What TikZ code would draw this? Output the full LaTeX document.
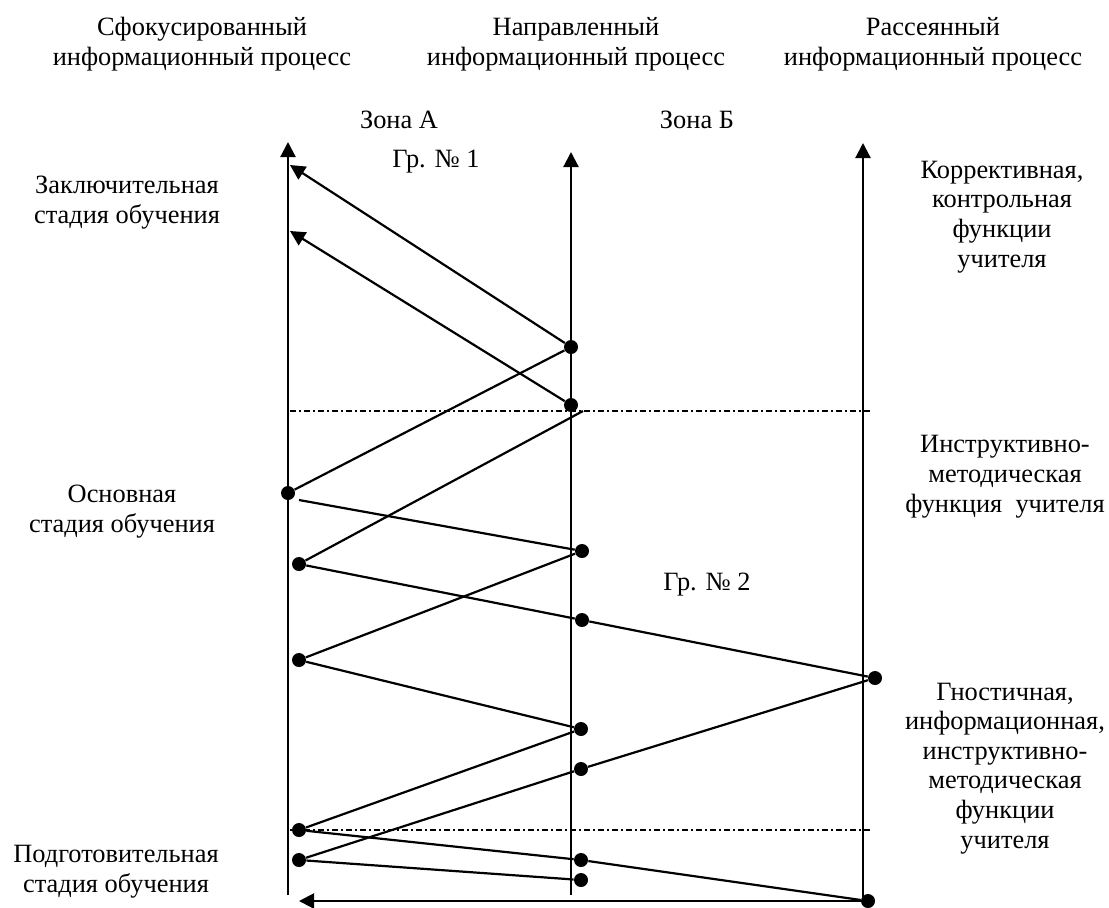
\documentclass[tikz,border=0pt]{standalone}
\usepackage{fontspec}
\setmainfont{Liberation Serif}
\usetikzlibrary{arrows.meta}

\begin{document}
\begin{tikzpicture}[x=0.5pt,y=-0.5pt,
    dot/.style={circle,fill,inner sep=0pt,minimum size=7pt},
    ln/.style={line width=1.1pt},
    sepline/.style={line width=0.6pt,dash pattern=on 3pt off 1.5pt on 1pt off 1.5pt},
    txt/.style={align=center,anchor=base,inner sep=0pt,font=\fontsize{13.2}{14.8}\selectfont},
    >={Triangle[length=7.5pt,width=7.5pt]}]
        \useasboundingbox (0,0) rectangle (1109,907);
        % заголовки (по базовой линии последней строки)
        \node[txt] (hA) at (202,65) {Сфокусированный\\информационный процесс};
        \node[txt] (hB) at (576,65) {Направленный\\информационный процесс};
        \node[txt] (hC) at (933,65) {Рассеянный\\информационный процесс};
        \node[txt] (zA) at (399,128) {Зона А};
        \node[txt] (zB) at (697,128) {Зона Б};
        \node[txt] (g1) at (436,167) {Гр. № 1};
        \node[txt] (g2) at (707,590) {Гр. № 2};
        % стадии обучения
        \node[txt] (st1) at (127,223) {Заключительная\\стадия обучения};
        \node[txt] (st2) at (122,532) {Основная\\стадия обучения};
        \node[txt] (st3) at (116,892) {Подготовительная\\стадия обучения};
        % функции учителя
        \node[txt] (f1) at (1002,267) {Коррективная,\\контрольная\\функции\\учителя};
        \node[txt] (f2) at (1005,512) {Инструктивно-\\методическая\\функция~~учителя};
        \node[txt] (f3) at (1005,848) {Гностичная,\\информационная,\\инструктивно-\\методическая\\функции\\учителя};

        % оси процессов
        \coordinate (a0) at (288,895);
        \coordinate (a1) at (288,142);
        \coordinate (b0) at (571,895);
        \coordinate (b1) at (571,152);
        \coordinate (c0) at (863,897);
        \coordinate (c1) at (863,143);
        \draw[ln,->] (a0) -- (a1);
        \draw[ln,->] (b0) -- (b1);
        \draw[ln,->] (c0) -- (c1);
        % границы стадий
        \coordinate (d1) at (290,411);
        \coordinate (d2) at (873,411);
        \coordinate (d3) at (290,830);
        \coordinate (d4) at (873,830);
        \draw[sepline] (d1) -- (d2);
        \draw[sepline] (d3) -- (d4);

        % точки
        \node[dot] (m1) at (571,347) {};
        \node[dot] (m2) at (571,405) {};
        \node[dot] (l1) at (288,493) {};
        \node[dot] (m3) at (582,551) {};
        \node[dot] (l2) at (299,564) {};
        \node[dot] (m4) at (582,620) {};
        \node[dot] (l3) at (299,660) {};
        \node[dot] (r1) at (875,678) {};
        \node[dot] (m5) at (581,729) {};
        \node[dot] (m6) at (581,769) {};
        \node[dot] (l4) at (299,830) {};
        \node[dot] (l5) at (299,860) {};
        \node[dot] (m7) at (581,860) {};
        \node[dot] (m8) at (581,880) {};
        \node[dot] (r2) at (868,901) {};
        \coordinate (t1) at (290,165);
        \coordinate (t2) at (290,231);
        \coordinate (e1) at (583,411);
        \coordinate (s1) at (299,500);
        \coordinate (t3) at (299,901);

        % связи
        \draw[ln,->] (m1) -- (t1);
        \draw[ln,->] (m2) -- (t2);
        \draw[ln] (l1) -- (m1);
        \draw[ln] (l2) -- (e1);
        \draw[ln] (s1) -- (m3);
        \draw[ln] (l2) -- (m4) -- (r1);
        \draw[ln] (l3) -- (m3);
        \draw[ln] (l3) -- (m5);
        \draw[ln] (l4) -- (m5);
        \draw[ln] (l5) -- (m6) -- (r1);
        \draw[ln] (l4) -- (m7) -- (r2);
        \draw[ln] (l5) -- (m8);
        \draw[ln,->] (r2) -- (t3);
\end{tikzpicture}
\end{document}
